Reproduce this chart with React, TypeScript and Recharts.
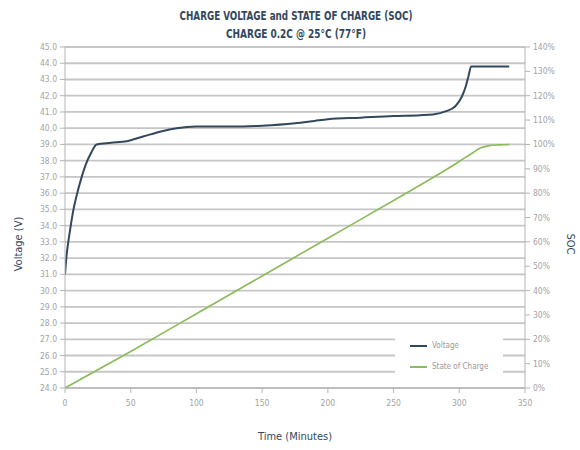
import React from "react";
import { LineChart, Line, XAxis, YAxis, CartesianGrid, Legend, Label } from "recharts";

// time (min) / voltage pairs
const voltTime = [0, 1, 2.5, 4, 6, 9, 12, 16, 20, 24, 35, 47, 60, 73, 85, 100, 125, 150, 175, 190, 200, 225, 250, 270, 280, 290, 297, 302, 305, 307, 309, 320, 338];
const voltage = [31.0, 32.0, 33.0, 33.8, 34.8, 35.9, 36.8, 37.8, 38.5, 39.0, 39.1, 39.2, 39.5, 39.8, 40.0, 40.1, 40.1, 40.15, 40.3, 40.45, 40.55, 40.65, 40.75, 40.8, 40.85, 41.05, 41.35, 41.95, 42.6, 43.2, 43.8, 43.8, 43.8];

const socTime = [0, 50, 100, 150, 200, 250, 300, 310, 316, 322, 330, 338];
const soc = [0, 15, 30.5, 46, 61.5, 77, 93, 96.5, 98.5, 99.4, 99.8, 100];

const timeTicks = [0, 50, 100, 150, 200, 250, 300, 350];
const voltTicks = [24, 25, 26, 27, 28, 29, 30, 31, 32, 33, 34, 35, 36, 37, 38, 39, 40, 41, 42, 43, 44, 45];
const socTicks = [0, 10, 20, 30, 40, 50, 60, 70, 80, 90, 100, 110, 120, 130, 140];
const legendOrder = ["Voltage", "State of Charge"];

const voltData = voltTime.map((t, i) => ({ t, v: voltage[i] }));
const socData = socTime.map((t, i) => ({ t, s: soc[i] }));

const FONT = "'DejaVu Sans Condensed', 'Liberation Sans Narrow', 'DejaVu Sans', sans-serif";
const NAVY = "#33485d";
const GREEN = "#8cbb5c";
const GRID = "#c6c6c6";
const TICK = "#a3a3a3";

const tickStyle = { fill: TICK, fontSize: 8.5, fontFamily: FONT };

function LegendBox({ payload }: any) {
    const items = [...(payload || [])].sort(
        (a: any, b: any) => legendOrder.indexOf(a.value) - legendOrder.indexOf(b.value)
    );
    return (
        <div style={{ width: 108, height: 50, background: "#fff", boxSizing: "border-box", paddingTop: 5, paddingLeft: 15 }}>
            {items.map((p: any) => (
                <div key={p.value} style={{ display: "flex", alignItems: "center", height: 21 }}>
                    <span style={{ display: "inline-block", width: 17, height: 2, background: p.color, marginRight: 5 }} />
                    <span style={{ fontSize: 8, color: "#9a9a9a", fontFamily: FONT }}>{p.value}</span>
                </div>
            ))}
        </div>
    );
}

export default function App() {
    return (
        <div style={{ position: "absolute", left: 0, top: 0, width: 580, height: 450, background: "#fff" }}>
            <svg width={580} height={46} style={{ position: "absolute", left: 0, top: 0 }}>
                <text x={296} y={20} textAnchor="middle" fill={NAVY} fontFamily={FONT} fontWeight="bold" fontSize={12}
                    textLength={233} lengthAdjust="spacingAndGlyphs">
                    CHARGE VOLTAGE and STATE OF CHARGE (SOC)
                </text>
                <text x={296} y={38} textAnchor="middle" fill={NAVY} fontFamily={FONT} fontWeight="bold" fontSize={12}
                    textLength={140} lengthAdjust="spacingAndGlyphs">
                    CHARGE 0.2C @ 25°C (77°F)
                </text>
            </svg>
            <LineChart width={580} height={450} margin={{ top: 47, right: 0, bottom: 32, left: 0 }}>
                <CartesianGrid yAxisId="v" vertical={false} stroke={GRID} strokeWidth={1.8} />
                <XAxis
                    type="number"
                    dataKey="t"
                    domain={[0, 350]}
                    ticks={timeTicks}
                    height={30}
                    tick={tickStyle}
                    tickSize={5}
                    tickMargin={7}
                    stroke="#b5b5b5"
                    allowDataOverflow
                >
                    <Label
                        content={() => (
                            <text x={295} y={440} textAnchor="middle" fill={NAVY} fontFamily={FONT} fontSize={11}>
                                Time (Minutes)
                            </text>
                        )}
                    />
                </XAxis>
                <YAxis
                    yAxisId="v"
                    orientation="left"
                    domain={[24, 45]}
                    ticks={voltTicks}
                    width={65}
                    tick={tickStyle}
                    tickSize={5}
                    tickMargin={3}
                    tickFormatter={(v: number) => v.toFixed(1)}
                    stroke="#b5b5b5"
                    interval={0}
                >
                    <Label
                        content={() => (
                            <text x={22} y={244} textAnchor="middle" fill={NAVY} fontFamily={FONT} fontSize={11}
                                transform="rotate(-90 22 244)">
                                Voltage (V)
                            </text>
                        )}
                    />
                </YAxis>
                <YAxis
                    yAxisId="s"
                    orientation="right"
                    domain={[0, 140]}
                    ticks={socTicks}
                    width={55}
                    tick={tickStyle}
                    tickSize={5}
                    tickMargin={3}
                    tickFormatter={(v: number) => `${v}%`}
                    stroke="#b5b5b5"
                    interval={0}
                >
                    <Label
                        content={() => (
                            <text x={567} y={244} textAnchor="middle" fill={NAVY} fontFamily={FONT} fontSize={11}
                                transform="rotate(90 567 244)">
                                SOC
                            </text>
                        )}
                    />
                </YAxis>
                <Legend
                    layout="vertical"
                    align="center"
                    verticalAlign="middle"
                    wrapperStyle={{ left: 395, top: 330, width: 108, height: 50 }}
                    content={LegendBox}
                />
                <Line
                    yAxisId="v"
                    data={voltData}
                    dataKey="v"
                    name="Voltage"
                    type="monotone"
                    stroke={NAVY}
                    strokeWidth={2}
                    dot={false}
                    isAnimationActive={false}
                />
                <Line
                    yAxisId="s"
                    data={socData}
                    dataKey="s"
                    name="State of Charge"
                    type="monotone"
                    stroke={GREEN}
                    strokeWidth={1.6}
                    dot={false}
                    isAnimationActive={false}
                />
            </LineChart>
        </div>
    );
}
